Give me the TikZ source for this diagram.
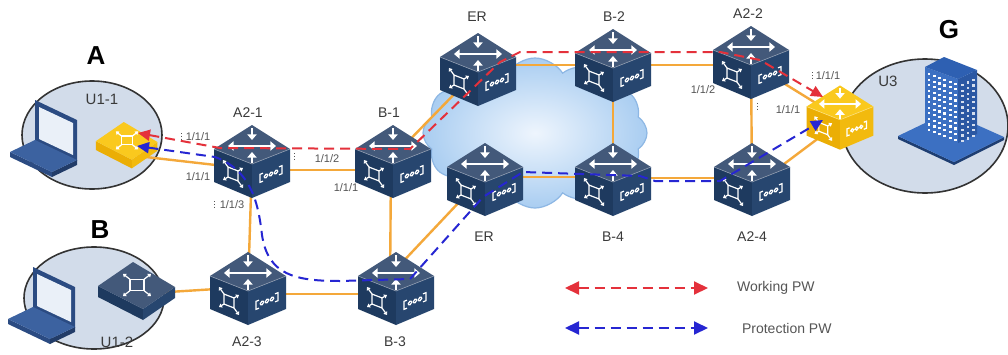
\documentclass[tikz,border=0pt]{standalone}
\usepackage{fontspec}
\setmainfont{Liberation Sans}
\usetikzlibrary{arrows.meta,shapes.symbols}

% colours
\definecolor{navytop}{HTML}{43597A}
\definecolor{navyleft}{HTML}{1E3A5F}
\definecolor{navyright}{HTML}{27466F}
\definecolor{goldtop}{HTML}{FAC91E}
\definecolor{goldleft}{HTML}{EBAE05}
\definecolor{goldright}{HTML}{F2BA0E}
\definecolor{linkorange}{HTML}{F4A83A}
\definecolor{workred}{HTML}{E4313B}
\definecolor{protblue}{HTML}{2626D2}
\definecolor{sitefill}{HTML}{D2DCEA}
\definecolor{cloudin}{HTML}{EEF5FD}
\definecolor{cloudout}{HTML}{A9CDF1}
\definecolor{cloudedge}{HTML}{8DB7E4}
\definecolor{lapdark}{HTML}{2B4B82}
\definecolor{lapbase}{HTML}{3C62A0}
\definecolor{lapscreen}{HTML}{EAF0F8}
\definecolor{towerl}{HTML}{3C70C2}
\definecolor{towerr}{HTML}{2B58A3}
\definecolor{towertop}{HTML}{2E60B2}
\definecolor{lbltext}{HTML}{3A3A3A}
\definecolor{porttext}{HTML}{555555}

% white symbols printed on the boxes
\newcommand\crossglyph{%
  \draw[glyph,<->] (-24,-16) -- (24,-16);
  \draw[glyph,->] (0,-34) -- (0,-22);
  \draw[glyph,->] (0,1) -- (0,-10);
}
\newcommand\xglyph{%
  \draw[thinglyph] (-5,-5) rectangle (5,5);
  \foreach \sx/\sy in {1/1,1/-1,-1/1,-1/-1}
    \draw[thinglyph,-{Triangle[length=1.5pt,width=2.2pt]}] (5*\sx,5*\sy) -- (10*\sx,10*\sy);
}
\newcommand\portglyph{%
  \draw[thinglyph] (-8,-4) -- (-11,-4) -- (-11,4) -- (-8,4);
  \draw[thinglyph] (8,-4) -- (11,-4) -- (11,4) -- (8,4);
  \foreach \i in {-5,0,5}
    \draw[thinglyph] (\i,0) circle [radius=1.8];
}

\tikzset{
  dev/.style={inner sep=0pt, minimum width=38pt, minimum height=36pt},
  glyph/.style={white, line width=1.4pt, >={Triangle[length=2.8pt,width=4.6pt]}},
  thinglyph/.style={white, line width=0.6pt},
  link/.style={linkorange, line width=1.2pt},
  work/.style={workred, line width=1pt, dash pattern=on 5pt off 3pt, >={Triangle[length=6pt,width=5.5pt]}},
  prot/.style={protblue, line width=1pt, dash pattern=on 5pt off 3pt, >={Triangle[length=6pt,width=5.5pt]}},
  site/.style={fill=sitefill, draw=black!80, line width=0.8pt},
  lbl/.style={font=\fontsize{7}{8}\selectfont, text=lbltext},
  sitelbl/.style={font=\fontsize{7.5}{9}\selectfont, text=lbltext},
  sitename/.style={font=\bfseries\fontsize{13}{15}\selectfont},
  port/.style={font=\fontsize{5.5}{6}\selectfont, text=porttext},
  portdot/.style={porttext, line width=0.5pt, dash pattern=on 0.6pt off 0.8pt},
  legendtxt/.style={font=\fontsize{7}{8}\selectfont, text=porttext, anchor=west},
  % 3D switch box
  pics/router/.style={code={
    \fill[#1left] (-38,-13) -- (0,2) -- (0,36) -- (-38,20) -- cycle;
    \fill[#1right] (0,2) -- (38,-13) -- (38,20) -- (0,36) -- cycle;
    \fill[#1top] (-38,-13) -- (0,-37) -- (38,-13) -- (0,2) -- cycle;
    \draw[#1top!60!white, line width=0.3pt] (-38,-13) -- (0,2) -- (38,-13);
    \crossglyph
    \begin{scope}[shift={(-19,12)}, yslant=-0.395] \xglyph \end{scope}
    \begin{scope}[shift={(19,12)}, yslant=0.395] \portglyph \end{scope}
  }},
  % flat access switch
  pics/flatsw/.style={code={
    \fill[#1left] (-39,-6) -- (6,17) -- (6,28) -- (-39,5) -- cycle;
    \fill[#1right] (6,17) -- (38,-5) -- (38,6) -- (6,28) -- cycle;
    \fill[#1top] (-39,-6) -- (-4,-30) -- (38,-5) -- (6,17) -- cycle;
    \begin{scope}[shift={(0,-7)}, scale=1.4, yscale=0.8] \xglyph \end{scope}
  }},
  % laptop, origin at top left corner of the lid
  pics/laptop/.style={code={
    \fill[lapdark] (0,0) -- (42,20) -- (42,61) -- (0,41) -- cycle;
    \fill[lapscreen] (4,7) -- (38,23) -- (38,55) -- (4,39) -- cycle;
    \fill[lapdark] (-25,52) -- (17,72) -- (17,77) -- (-25,57) -- cycle;
    \fill[lapdark!80!black] (17,72) -- (42,60) -- (42,65) -- (17,77) -- cycle;
    \fill[lapbase] (0,40) -- (42,60) -- (17,72) -- (-25,52) -- cycle;
  }},
}

\begin{document}
\begin{tikzpicture}[x=0.5pt, y=-0.5pt]
\fill[white] (0,0) rectangle (1008,354);
\useasboundingbox (0,0) rectangle (1008,354);

% customer sites
\draw[site] (92,135) ellipse [x radius=70, y radius=54];
\draw[site] (94,298) ellipse [x radius=70, y radius=51];
\draw[site] (925,126) ellipse [x radius=83, y radius=67];

% core network
\node[cloud, cloud puffs=12, cloud puff arc=115, minimum width=112pt, minimum height=75pt,
      inner sep=0pt, draw=cloudedge, line width=0.6pt, inner color=cloudin, outer color=cloudout] (core) at (535,133) {};

% devices
\node[dev] (u11) at (127,146) {};
\node[dev] (u12) at (137,292) {};
\node[dev] (u3) at (840,118) {};
\node[dev] (a21) at (252,162) {};
\node[dev] (b1) at (393,162) {};
\node[dev] (er1) at (478,70) {};
\node[dev] (b2) at (613,66) {};
\node[dev] (a22) at (751,63) {};
\node[dev] (er2) at (485,180) {};
\node[dev] (b4) at (613,180) {};
\node[dev] (a24) at (752,180) {};
\node[dev] (a23) at (248,289) {};
\node[dev] (b3) at (396,289) {};

% physical links
\draw[link] ([shift={(10,10)}]u11.center) -- ([shift={(-10,6)}]a21.center);
\draw[link] ([shift={(0,2)}]u12.center) -- ([shift={(0,-2)}]a23.center);
\draw[link] ([shift={(0,8)}]a21.center) -- ([shift={(0,8)}]b1.center);
\draw[link] (a21.center) -- (a23.center);
\draw[link] ([shift={(-2,0)}]b1.center) -- ([shift={(-6,0)}]b3.center);
\draw[link] ([shift={(0,5)}]a23.center) -- ([shift={(0,5)}]b3.center);
\draw[link] ([shift={(0,-5)}]b1.center) -- ([shift={(-10,10)}]er1.center);
\draw[link] ([shift={(0,-20)}]b3.center) -- ([shift={(-5,0)}]er2.center);
\draw[link] ([shift={(0,-5)}]er1.center) -- ([shift={(0,-1)}]b2.center);
\draw[link] ([shift={(0,-1)}]b2.center) -- ([shift={(0,2)}]a22.center);
\draw[link] ([shift={(0,-3)}]er2.center) -- ([shift={(0,-3)}]b4.center);
\draw[link] ([shift={(0,-2)}]b4.center) -- ([shift={(0,-2)}]a24.center);
\draw[link] (b2.center) -- (b4.center);
\draw[link] (a22.center) -- (a24.center);
\draw[link] (a22.center) -- (u3.center);
\draw[link] ([shift={(0,8)}]a24.center) -- ([shift={(0,4)}]u3.center);

% boxes
\foreach \d in {a21,b1,er1,b2,a22,er2,b4,a24,a23,b3}
  \pic at (\d) {router=navy};
\pic[scale=0.88] at (u3) {router=gold};
\pic[scale=0.8] at (u11) {flatsw=gold};
\pic at (u12) {flatsw=navy};

% hosts
\coordinate (pc1) at (35,100);
\coordinate (pc2) at (33,267);
\pic at (pc1) {laptop};
\pic at (pc2) {laptop};

% office tower
\coordinate (hq) at (950,115);
\begin{scope}[shift={(hq)}]
  \fill[towerr!70!black] (-52,21) -- (4,47) -- (54,22) -- (54,25) -- (4,50) -- (-52,24) -- cycle;
  \fill[towerl] (-52,21) -- (-2,-3) -- (54,22) -- (4,47) -- cycle;
  \fill[towerl] (-25,-48) -- (8,-36) -- (8,28) -- (-25,16) -- cycle;
  \fill[towerr] (8,-36) -- (27,-45) -- (27,19) -- (8,28) -- cycle;
  \fill[towertop] (-25,-48) -- (-6,-58) -- (27,-45) -- (8,-36) -- cycle;
  \foreach \i in {0,...,5}
    \foreach \j in {0,...,10}
      \fill[white] ({-22.5+5.3*\i},{-42+1.9*\i+5.6*\j}) rectangle ++(2.8,2.2);
  \foreach \i in {0,1,2}
    \foreach \j in {0,...,10}
      \fill[white!80!towerr] ({11+5.5*\i},{-31-2.6*\i+5.6*\j}) rectangle ++(2.5,2.2);
\end{scope}

% pseudowires
\draw[work,<->] ([shift={(11,-13)}]u11.center) -- ([shift={(-32,-14)}]a21.center)
  -- ([shift={(17,-13)}]b1.center) -- ([shift={(22,-8)}]er1.center)
  -- ([shift={(42,-18)}]er1.center) -- ([shift={(-31,-11)}]a22.center)
  -- ([shift={(9,-3)}]a22.center) -- ([shift={(-17,-21)}]u3.center);
\draw[prot,<->] ([shift={(10,0)}]u11.center) -- ([shift={(-37,-5)}]a21.center)
  .. controls ([shift={(-2,8)}]a21.center) and ([shift={(6,38)}]a21.center) .. ([shift={(14,-54)}]a23.center)
  .. controls ([shift={(20,-14)}]a23.center) and ([shift={(47,-8)}]a23.center) .. ([shift={(-56,-8)}]b3.center)
  -- ([shift={(14,-10)}]b3.center) -- ([shift={(-2,17)}]er2.center)
  -- ([shift={(38,-8)}]er2.center) -- ([shift={(27,-4)}]b4.center)
  -- ([shift={(42,1)}]b4.center) -- ([shift={(-32,1)}]a24.center)
  -- ([shift={(-17,2)}]u3.center);

% device names
\node[lbl] (a21t) at (248,113) {A2-1};
\node[lbl] (b1t) at (389,113) {B-1};
\node[lbl] (er1t) at (477,17) {ER};
\node[lbl] (b2t) at (614,17) {B-2};
\node[lbl] (a22t) at (748,14) {A2-2};
\node[lbl] (er2t) at (484,237) {ER};
\node[lbl] (b4t) at (613,237) {B-4};
\node[lbl] (a24t) at (752,237) {A2-4};
\node[lbl] (a23t) at (247,342) {A2-3};
\node[lbl] (b3t) at (395,342) {B-3};
\node[sitelbl] (u11t) at (102,99) {U1-1};
\node[sitelbl] (u12t) at (117,342) {U1-2};
\node[sitelbl] (u3t) at (888,81) {U3};
\node[sitename] (sa) at (96,56) {A};
\node[sitename] (sb) at (100,230) {B};
\node[sitename] (sg) at (949,30) {G};

% port numbers
\node[port] (p1) at (198,137) {1/1/1};
\node[port] (p2) at (198,177) {1/1/1};
\node[port] (p3) at (232,205) {1/1/3};
\node[port] (p4) at (327,159) {1/1/2};
\node[port] (p5) at (346,188) {1/1/1};
\node[port] (p6) at (703,90) {1/1/2};
\node[port] (p7) at (828,76) {1/1/1};
\node[port] (p8) at (788,110) {1/1/1};
\draw[portdot] (181,133) -- (181,141);
\draw[portdot] (214,201) -- (214,209);
\draw[portdot] (294,153) -- (294,161);
\draw[portdot] (812,72) -- (812,80);
\draw[portdot] (757,103) -- (757,111);

% legend
\coordinate (wk1) at (565,288);
\coordinate (wk2) at (708,288);
\coordinate (pr1) at (565,328);
\coordinate (pr2) at (708,328);
\draw[work,>={Triangle[length=7pt,width=6.5pt]},<->] (wk1) -- (wk2);
\draw[prot,>={Triangle[length=7pt,width=6.5pt]},<->] (pr1) -- (pr2);
\node[legendtxt] (wkt) at (730,288) {Working PW};
\node[legendtxt] (prt) at (735,328) {Protection PW};

\end{tikzpicture}
\end{document}
